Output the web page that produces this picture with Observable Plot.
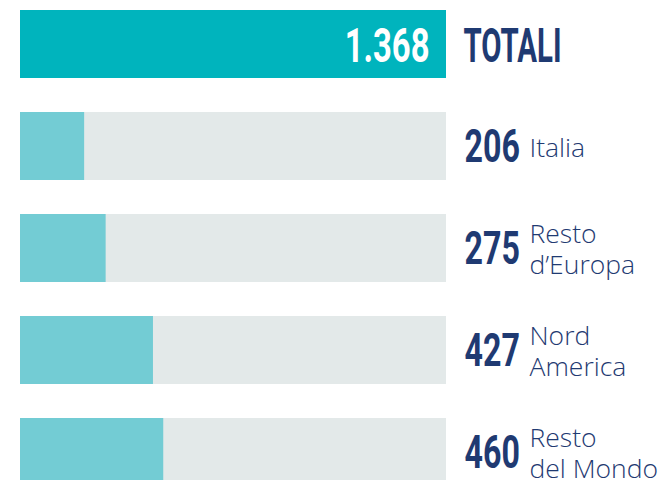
<!DOCTYPE html>
<html>
<head>
<meta charset="utf-8">
<script src="https://cdn.jsdelivr.net/npm/d3@7"></script>
<script src="https://cdn.jsdelivr.net/npm/@observablehq/plot@0.6"></script>
<style>
  html, body { margin: 0; padding: 0; background: #ffffff; }
  #chart svg { display: block; }
</style>
</head>
<body>
<div id="chart"></div>
<script>
const categories = ["TOTALI", "Italia", "Resto d’Europa", "Nord America", "Resto del Mondo"];
const labelLines = ["TOTALI", "Italia", "Resto\nd’Europa", "Nord\nAmerica", "Resto\ndel Mondo"];
const values = [1368, 206, 275, 427, 460];
const total = 1368;

const itFormat = d3.formatLocale({decimal: ",", thousands: ".", grouping: [3], currency: ["€", ""]}).format(",");

const data = categories.map((c, i) => ({
  cat: c, value: values[i], label: labelLines[i], total, isTotal: i === 0, text: itFormat(values[i])
}));

const navy = "#1f3a72";

const plot = Plot.plot({
  width: 659,
  height: 480,
  marginLeft: 20,
  marginRight: 213,
  marginTop: 0,
  marginBottom: 0,
  x: {domain: [0, total], range: [20, 446], axis: null},
  y: {domain: categories, range: [10, 486], paddingInner: 1/3, paddingOuter: 0, axis: null},
  style: {background: "transparent"},
  marks: [
    Plot.barX(data, {x: "total", y: "cat", fill: "#e3e9e9"}),
    Plot.barX(data, {x: "value", y: "cat", fill: d => d.isTotal ? "#00b4bd" : "#73ccd4"}),
    Plot.text(data.filter(d => d.isTotal), {x: "value", y: "cat", text: "text", textAnchor: "end", dx: -17, dy: 2,
      fill: "white", fontSize: 49, fontWeight: 700, fontFamily: "Roboto", className: "num-total"}),
    Plot.text(data.filter(d => d.isTotal), {x: "total", y: "cat", text: "label", textAnchor: "start", dx: 17, dy: 2,
      fill: navy, fontSize: 49, fontWeight: 700, fontFamily: "Roboto", className: "word-total"}),
    Plot.text(data.filter(d => !d.isTotal), {x: "total", y: "cat", text: "text", textAnchor: "start", dx: 18, dy: 1,
      fill: navy, fontSize: 46, fontWeight: 700, fontFamily: "Roboto", className: "num"}),
    Plot.text(data.filter(d => !d.isTotal), {x: "total", y: "cat", text: "label", textAnchor: "start", dx: 83, dy: 0,
      lineHeight: 1.18, lineAnchor: "middle",
      fill: navy, fontSize: 26.5, fontWeight: 300, fontFamily: "Open Sans", className: "lbl"})
  ]
});

document.getElementById("chart").appendChild(plot);

function squeeze(cls, sx, anchorEnd) {
  d3.select(plot).selectAll(`g.${cls} text`).each(function() {
    const bb = this.getBBox();
    const ax = anchorEnd ? bb.x + bb.width : bb.x;
    const tr = this.getAttribute("transform") || "";
    this.setAttribute("transform", `${tr} translate(${ax},0) scale(${sx},1) translate(${-ax},0)`);
  });
}
squeeze("num-total", 0.67, true);
squeeze("word-total", 0.6, false);
squeeze("num", 0.7, false);
</script>
</body>
</html>
